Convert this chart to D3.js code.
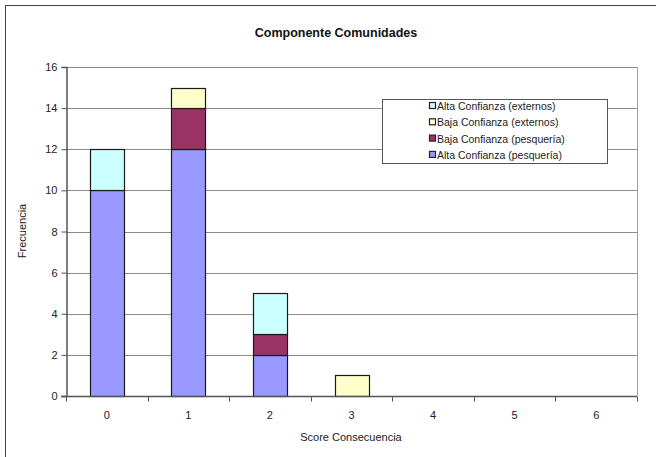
<!DOCTYPE html>
<html>
<head>
<meta charset="utf-8">
<script src="https://cdn.jsdelivr.net/npm/d3@7"></script>
<style>
  html, body { margin: 0; padding: 0; background: #fff; }
  svg text { font-family: "Liberation Sans", Arial, sans-serif; }
</style>
</head>
<body>
<svg id="chart" width="656" height="457"></svg>
<script>
// Score categories on the x axis
const scores = ["0", "1", "2", "3", "4", "5", "6"];
// Frequency per score, one array per confidence group (stacked bottom to top)
const altaPesqueria = [10, 12, 2, 0, 0, 0, 0];
const bajaPesqueria = [0, 2, 1, 0, 0, 0, 0];
const bajaExternos  = [0, 1, 0, 1, 0, 0, 0];
const altaExternos  = [2, 0, 2, 0, 0, 0, 0];
const seriesNames = ["Alta Confianza (pesquería)", "Baja Confianza (pesquería)",
                     "Baja Confianza (externos)", "Alta Confianza (externos)"];
const seriesColors = ["#9999FF", "#993366", "#FFFFCC", "#CCFFFF"];
const yTicks = [0, 2, 4, 6, 8, 10, 12, 14, 16];

const svg = d3.select("#chart");
const margin = { left: 66, top: 67, right: 637, bottom: 396 };

// outer chart frame
svg.append("rect").attr("x", 5.5).attr("y", 5.5).attr("width", 680).attr("height", 480)
  .attr("fill", "none").attr("stroke", "#444").attr("stroke-width", 1);

const x = d3.scaleBand().domain(scores).range([margin.left, margin.right]).paddingInner(0).paddingOuter(0);
const y = d3.scaleLinear().domain([0, 16]).range([margin.bottom, margin.top]);
const barW = 34;

// gridlines
svg.append("g").selectAll("line").data(yTicks.filter(d => d > 0)).join("line")
  .attr("x1", margin.left).attr("x2", margin.right)
  .attr("y1", d => Math.round(y(d)) + 0.5).attr("y2", d => Math.round(y(d)) + 0.5)
  .attr("stroke", "#8c8c8c").attr("stroke-width", 1);

// right edge of plot area
svg.append("line").attr("x1", margin.right + 0.5).attr("x2", margin.right + 0.5)
  .attr("y1", margin.top).attr("y2", margin.bottom)
  .attr("stroke", "#a0a0a0");

// stacked data
const table = scores.map((s, i) => ({
  score: s,
  s0: altaPesqueria[i], s1: bajaPesqueria[i], s2: bajaExternos[i], s3: altaExternos[i]
}));
const stack = d3.stack().keys(["s0", "s1", "s2", "s3"])(table);

svg.append("g").selectAll("g").data(stack).join("g")
  .attr("fill", (d, i) => seriesColors[i])
  .selectAll("rect").data(d => d.filter(p => p[1] - p[0] > 0)).join("rect")
  .attr("x", d => Math.round(x(d.data.score) + x.bandwidth() / 2 - barW / 2) + 0.5)
  .attr("y", d => Math.round(y(d[1])) + 0.5)
  .attr("width", barW)
  .attr("height", d => Math.round(y(d[0])) - Math.round(y(d[1])))
  .attr("stroke", "#1a1a1a").attr("stroke-width", 1.2);

// y axis
const yAxis = d3.axisLeft(y).tickValues(yTicks).tickSize(5).tickPadding(4);
const gy = svg.append("g").attr("transform", `translate(${margin.left + 0.5},0)`).call(yAxis);
gy.select(".domain").attr("stroke", "#555").attr("stroke-width", 1.5);
gy.selectAll(".tick line").attr("stroke", "#555");
gy.selectAll("text").attr("font-size", 11).attr("fill", "#222")
  .attr("font-family", "'Liberation Sans', Arial, sans-serif");

// x axis: ticks at band boundaries, labels at band centres
const gx = svg.append("g").attr("transform", `translate(0,${margin.bottom + 0.5})`);
gx.append("line").attr("x1", margin.left - 5).attr("x2", margin.right)
  .attr("stroke", "#555").attr("stroke-width", 1.5);
const edges = scores.map(s => x(s)).concat([margin.right]);
gx.selectAll("line.tk").data(edges).join("line").attr("class", "tk")
  .attr("x1", d => Math.round(d) + 0.5).attr("x2", d => Math.round(d) + 0.5)
  .attr("y1", 0).attr("y2", 5).attr("stroke", "#555");
gx.selectAll("text").data(scores).join("text")
  .attr("x", d => x(d) + x.bandwidth() / 2).attr("y", 22)
  .attr("text-anchor", "middle").attr("font-size", 11).attr("fill", "#222")
  .text(d => d);

// titles
svg.append("text").attr("x", 336).attr("y", 37).attr("text-anchor", "middle")
  .attr("font-size", 12.5).attr("font-weight", "bold").attr("fill", "#111")
  .text("Componente Comunidades");
svg.append("text").attr("x", 351).attr("y", 441).attr("text-anchor", "middle")
  .attr("font-size", 11).attr("fill", "#222").text("Score Consecuencia");
svg.append("text").attr("transform", "translate(26,231) rotate(-90)")
  .attr("text-anchor", "middle").attr("font-size", 11).attr("fill", "#222")
  .text("Frecuencia");

// legend (top entry is the top of the stack)
const lg = svg.append("g");
lg.append("rect").attr("x", 382.5).attr("y", 99.5).attr("width", 225).attr("height", 64)
  .attr("fill", "#fff").attr("stroke", "#555");
const order = [3, 2, 1, 0];
order.forEach((si, k) => {
  const yy = 106 + k * 16.3;
  lg.append("rect").attr("x", 429.5).attr("y", yy - 3.5).attr("width", 6).attr("height", 6)
    .attr("fill", seriesColors[si]).attr("stroke", "#222").attr("stroke-width", 1.2);
  lg.append("text").attr("x", 437).attr("y", yy + 4).attr("font-size", 10.5).attr("fill", "#222")
    .text(seriesNames[si]);
});
</script>
</body>
</html>
